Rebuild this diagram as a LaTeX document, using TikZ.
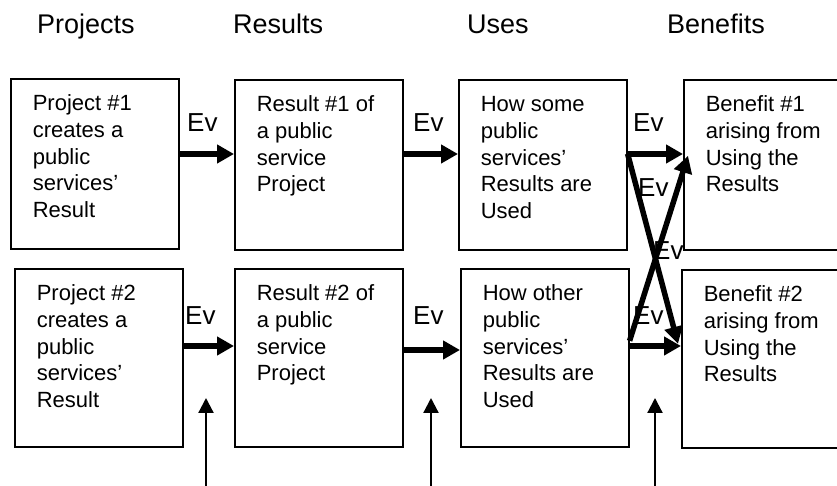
\documentclass[tikz,border=0pt]{standalone}
\usepackage{fontspec}
\setmainfont{Liberation Sans}
\usetikzlibrary{arrows.meta}
\tikzstyle{stage}=[draw,line width=1.6pt,anchor=north west,inner xsep=22pt,inner ysep=13.3pt,font=\fontsize{22pt}{26.7pt}\selectfont]
\tikzstyle{ev} = [draw,line width=5.5pt,-{Triangle[length=17pt,width=18pt]}]
\tikzstyle{feed} = [draw,line width=2.2pt,-{Triangle[length=15pt,width=15pt]}]
\tikzstyle{evtext}=[anchor=base west,inner sep=0pt,font=\fontsize{26pt}{30pt}\selectfont]
\tikzstyle{heading}=[anchor=base west,inner sep=0pt,font=\fontsize{27pt}{32pt}\selectfont]
% box text: fixed height, first line at the top
\newcommand{\stagetext}[2]{\parbox[t][#1][t]{124pt}{\raggedright\strut #2}}

\begin{document}
\begin{tikzpicture}[x=1pt,y=1pt]
    \useasboundingbox (0,0) rectangle (837,486);
    % Column headings
    \foreach \pos/\name/\word in {{(37,452)/hp/Projects}, {(233,452)/hr/Results}, {(467,452)/hu/Uses}, {(667,452)/hb/Benefits}}
        \node[heading] (\name) at \pos {\word};
    % The two rows of boxes
    \foreach \pos/\name/\hgt/\words in {
        {(10,408)/p1/143.4/{Project \#1\\creates a\\public\\services’\\Result}},
        {(234,407)/r1/143.4/{Result \#1 of\\a public\\service\\Project}},
        {(458,407)/u1/143.4/{How some\\public\\services’\\Results are\\Used}},
        {(683,407)/b1/143.4/{Benefit \#1\\arising from\\Using the\\Results}},
        {(14,218)/p2/151.4/{Project \#2\\creates a\\public\\services’\\Result}},
        {(234,218)/r2/151.4/{Result \#2 of\\a public\\service\\Project}},
        {(460,218)/u2/151.4/{How other\\public\\services’\\Results are\\Used}},
        {(681,217)/b2/151.4/{Benefit \#2\\arising from\\Using the\\Results}}}
        \node[stage] (\name) at \pos {\stagetext{\hgt pt}{\words}};
    % Heights of the row arrows
    \coordinate (top) at (0,332);
    \coordinate (low) at (0,140);
    \coordinate (low2) at (0,136);
    % Connect the boxes
    \foreach \source/\dest/\lvl in {p1/r1/top, r1/u1/top, u1/b1/top, p2/r2/low, r2/u2/low2, u2/b2/low}
        \path[ev] (\source.east |- \lvl) -- (\dest.west |- \lvl);
    % Crossing arrows between uses and benefits
    \path[ev] ([yshift=11pt]u1.east) -- ([xshift=-3pt,yshift=15pt]b2.west);
    \path[ev] ([yshift=17pt]u2.east) -- ([xshift=5pt,yshift=9pt]b1.west);
    % Ev labels
    \foreach \pos/\name in {{(187,354)/e1}, {(413,354)/e2}, {(633,354)/e3}, {(638,289)/e4}, {(653,226)/e5}, {(633,161)/e6}, {(185,161)/e7}, {(413,161)/e8}}
        \node[evtext] (\name) at \pos {Ev};
    % Inputs from below
    \foreach \x/\name in {206/1, 431/2, 655/3} {
        \coordinate (src\name) at (\x,0);
        \coordinate (tip\name) at (\x,88);
        \path[feed] (src\name) -- (tip\name);
    }
\end{tikzpicture}
\end{document}
